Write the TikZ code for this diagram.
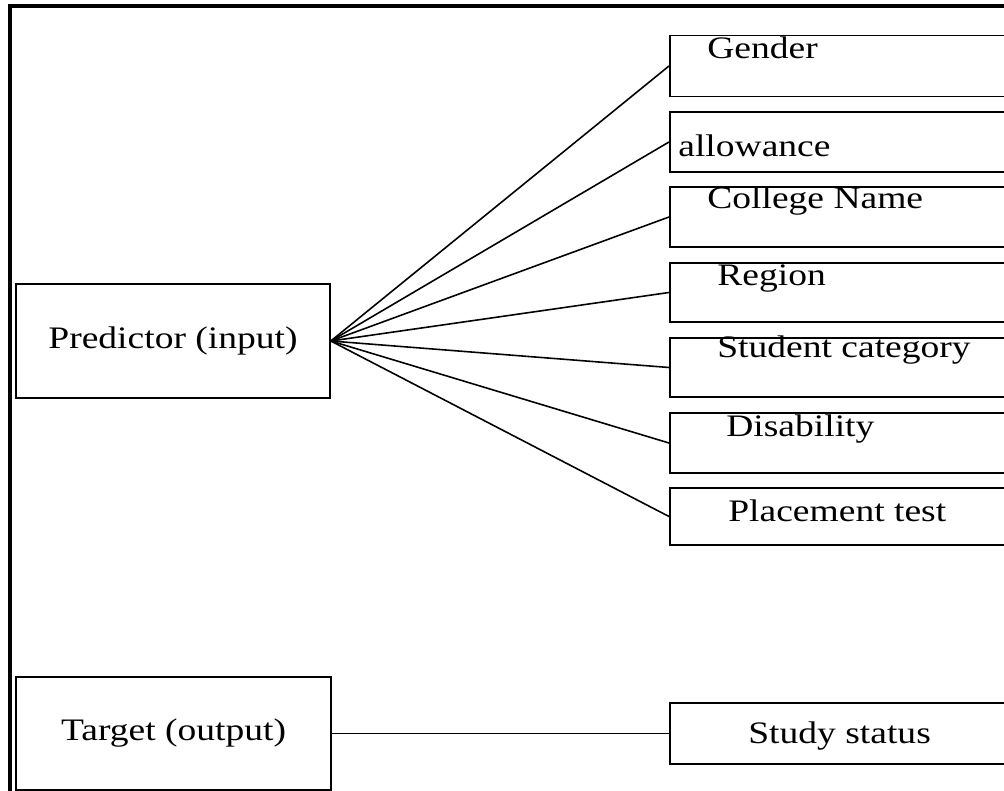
\documentclass[tikz,border=0pt]{standalone}
\usepackage{fontspec}
\setmainfont{Liberation Serif}[FakeStretch=1.2]
\usepackage{tikz}

\begin{document}
\begin{tikzpicture}
					[box/.style={rectangle,draw=black,line width=0.9pt,inner sep=0in},
					lbl/.style={anchor=base west,inner sep=0in},
					every node/.style={font=\fontsize{17.8}{21}\selectfont}]
					\clip (0,0) rectangle (20.08,-15.82);
					\draw[line width=2.3pt] (0.2,-15.9) |- (20.3,-0.12);
					\node[box,minimum width=6.28cm,minimum height=2.28cm] (pred) at (3.46,-6.82) {Predictor (input)};
					\node[box,minimum width=6.3cm,minimum height=2.26cm] (targ) at (3.47,-14.67) {Target (output)};
					\node[box,minimum width=7cm,minimum height=1.22cm,anchor=west] (gen) at (13.38,-1.32) {};
					\node[box,minimum width=7cm,minimum height=1.2cm,anchor=west] (allow) at (13.38,-2.84) {};
					\node[box,minimum width=7cm,minimum height=1.2cm,anchor=west] (coll) at (13.38,-4.34) {};
					\node[box,minimum width=7cm,minimum height=1.18cm,anchor=west] (reg) at (13.38,-5.85) {};
					\node[box,minimum width=7cm,minimum height=1.18cm,anchor=west] (cat) at (13.38,-7.35) {};
					\node[box,minimum width=7cm,minimum height=1.2cm,anchor=west] (dis) at (13.38,-8.86) {};
					\node[box,minimum width=7cm,minimum height=1.14cm,anchor=west] (place) at (13.38,-10.33) {};
					\node[box,minimum width=7cm,minimum height=1.22cm,anchor=west] (stat) at (13.38,-14.67) {};
					\node[lbl] at (14.14,-1.17) {Gender};
					\node[lbl] at (13.56,-3.14) {allowance};
					\node[lbl] at (14.14,-4.16) {College Name};
					\node[lbl] at (14.34,-5.7) {Region};
					\node[lbl] at (14.34,-7.14) {Student category};
					\node[lbl] at (14.52,-8.72) {Disability};
					\node[lbl] at (14.56,-10.43) {Placement test};
					\node[lbl] at (14.96,-14.86) {Study status};
					\path (pred.east) edge[line width=0.9pt] (gen.west);
					\path (pred.east) edge[line width=0.9pt] (allow.west);
					\path (pred.east) edge[line width=0.9pt] (coll.west);
					\path (pred.east) edge[line width=0.9pt] (reg.west);
					\path (pred.east) edge[line width=0.9pt] (cat.west);
					\path (pred.east) edge[line width=0.9pt] (dis.west);
					\path (pred.east) edge[line width=0.9pt] (place.west);
					\path (targ.east) edge[line width=0.9pt] (stat.west);
\end{tikzpicture}
\end{document}
